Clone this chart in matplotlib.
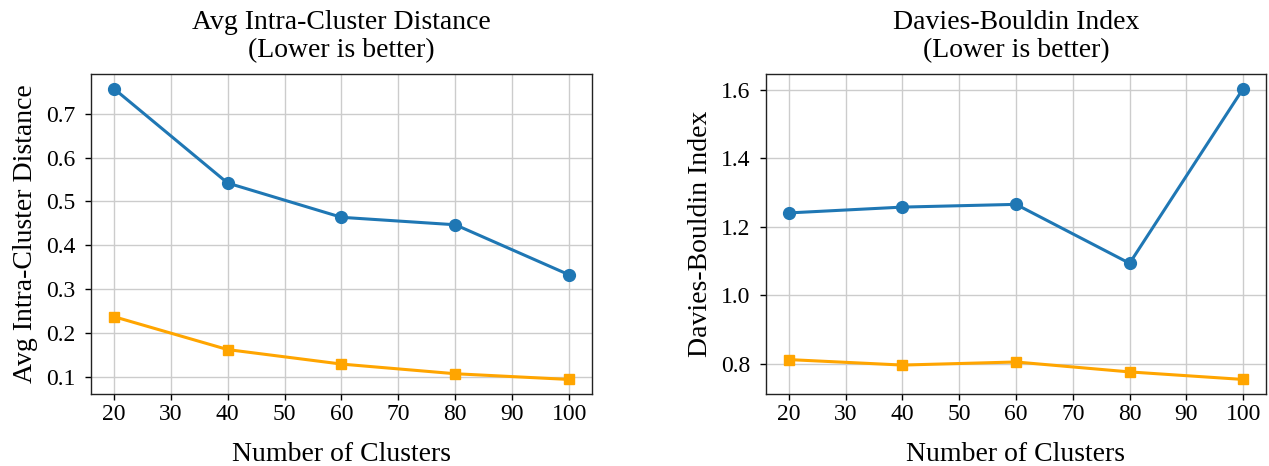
import matplotlib
matplotlib.use("Agg")
import matplotlib.pyplot as plt
from matplotlib.ticker import FormatStrFormatter

clusters = [20, 40, 60, 80, 100]
intra_blue = [0.757, 0.542, 0.464, 0.447, 0.333]
intra_orange = [0.238, 0.163, 0.130, 0.108, 0.095]
db_blue = [1.240, 1.257, 1.265, 1.093, 1.603]
db_orange = [0.812, 0.796, 0.805, 0.776, 0.754]

titles = ["Avg Intra-Cluster Distance\n(Lower is better)", "Davies-Bouldin Index\n(Lower is better)"]
ylabels = ["Avg Intra-Cluster Distance", "Davies-Bouldin Index"]
xlabel = "Number of Clusters"
xticks = [20, 30, 40, 50, 60, 70, 80, 90, 100]
yticks_left = [0.1, 0.2, 0.3, 0.4, 0.5, 0.6, 0.7]
yticks_right = [0.8, 1.0, 1.2, 1.4, 1.6]

plt.rcParams['font.family'] = ['Liberation Serif', 'DejaVu Serif']

fig = plt.figure(figsize=(12.69, 4.66), dpi=100)
ax1 = fig.add_axes([0.0717, 0.1545, 0.3948, 0.6867])
ax2 = fig.add_axes([0.6036, 0.1545, 0.3940, 0.6867])

BLUE = '#1f77b4'
ORANGE = '#ffa500'

for ax, b, o, t, yl in [(ax1, intra_blue, intra_orange, titles[0], ylabels[0]),
                        (ax2, db_blue, db_orange, titles[1], ylabels[1])]:
    ax.plot(clusters, b, color=BLUE, marker='o', markersize=8.5, linewidth=2.2, zorder=3)
    ax.plot(clusters, o, color=ORANGE, marker='s', markersize=7.5, linewidth=2.2, zorder=3)
    ax.set_title(t, fontsize=20, pad=12, linespacing=1.15)
    ax.set_ylabel(yl, fontsize=20, labelpad=6)
    ax.set_xlabel(xlabel, fontsize=20, labelpad=12)
    ax.set_xticks(xticks)
    ax.grid(True, color='#cccccc', linewidth=1)
    ax.set_axisbelow(True)
    ax.tick_params(labelsize=17, length=4, width=1)
    ax.tick_params(axis='y', pad=7)
    for s in ax.spines.values():
        s.set_color('#222222')
        s.set_linewidth(1)

ax1.set_yticks(yticks_left)
ax2.set_yticks(yticks_right)
ax2.yaxis.set_major_formatter(FormatStrFormatter('%.1f'))

fig.savefig("out.png", dpi=100)
